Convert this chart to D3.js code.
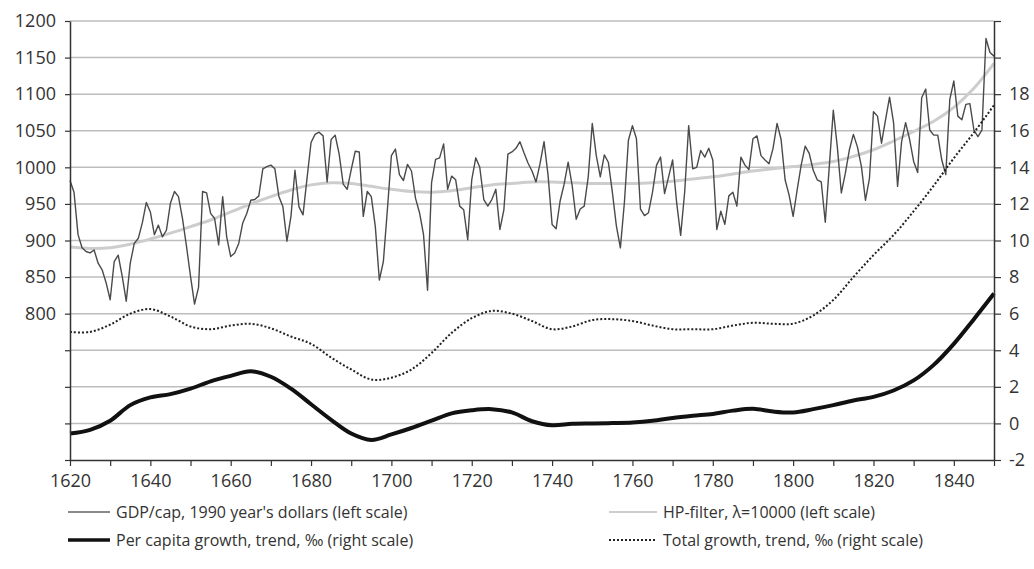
<!DOCTYPE html>
<html>
<head>
<meta charset="utf-8">
<script src="https://cdn.jsdelivr.net/npm/d3@7"></script>
<style>
  body { margin: 0; background: #fff; }
  text { font-family: "Open Sans", "Liberation Sans", sans-serif; fill: #333; }
</style>
</head>
<body>
<div id="chart"></div>
<script>
// Annual GDP per capita, 1990 year's dollars (1620..1850)
const gdpStart = 1620;
const gdpValues = [
  982, 966, 908, 890, 885, 883, 887, 869, 860, 842,
  819, 871, 880, 851, 817, 869, 896, 903, 924, 952,
  939, 908, 921, 905, 914, 951, 967, 960, 930, 892,
  851, 813, 836, 967, 965, 937, 930, 894, 960, 905,
  878, 883, 896, 924, 937, 955, 956, 961, 998, 1001,
  1003, 998, 960, 946, 899, 933, 996, 946, 935, 985,
  1034, 1045, 1048, 1043, 980, 1038, 1044, 1018, 977, 970,
  997, 1022, 1021, 933, 967, 960, 919, 846, 871, 942,
  1016, 1025, 990, 982, 1004, 995, 958, 938, 908, 832,
  979, 1011, 1013, 1032, 970, 988, 983, 947, 942, 901,
  983, 1013, 1000, 956, 947, 956, 970, 915, 942, 1018,
  1021, 1026, 1035, 1020, 1006, 995, 980, 1005, 1035, 989,
  922, 916, 954, 977, 1007, 975, 929, 943, 947, 987,
  1060, 1016, 987, 1017, 1007, 966, 920, 890, 952, 1037,
  1057, 1039, 943, 934, 938, 966, 1003, 1014, 964, 987,
  1010, 952, 907, 966, 1057, 998, 1000, 1023, 1014, 1026,
  1010, 915, 940, 922, 961, 966, 947, 1014, 1003, 997,
  1039, 1043, 1016, 1010, 1005, 1026, 1060, 1038, 983, 962,
  933, 969, 1003, 1029, 1019, 996, 983, 980, 925, 1001,
  1078, 1028, 965, 992, 1024, 1045, 1028, 1001, 955, 985,
  1076, 1070, 1033, 1065, 1096, 1061, 974, 1035, 1061, 1038,
  1008, 993, 1095, 1107, 1051, 1044, 1044, 1010, 990, 1093,
  1118, 1070, 1065, 1086, 1087, 1051, 1042, 1051, 1176, 1157,
  1152
];

// Trend series, read every 5 years
const trendYears = d3.range(1620, 1851, 5);
const hpValues = [
  891, 889, 890, 895, 902, 910, 919, 928, 939, 950,
  960, 969, 976, 979, 978, 974, 970, 967, 966, 968,
  972, 976, 978, 980, 980, 979, 978, 978, 978, 979,
  981, 984, 987, 991, 995, 998, 1001, 1004, 1008, 1015,
  1024, 1036, 1049, 1063, 1082, 1108, 1142
];
const perCapitaGrowth = [
  -0.55, -0.35, 0.15, 1.0, 1.42, 1.6, 1.9, 2.3, 2.6, 2.85,
  2.55, 1.9, 1.05, 0.2, -0.55, -0.9, -0.6, -0.25, 0.15, 0.55,
  0.72, 0.78, 0.6, 0.12, -0.1, -0.02, 0.0, 0.02, 0.05, 0.14,
  0.3, 0.42, 0.52, 0.7, 0.8, 0.65, 0.6, 0.78, 1.0, 1.25,
  1.45, 1.8, 2.35, 3.2, 4.35, 5.7, 7.1
];
const totalGrowth = [
  5.0, 5.0, 5.4, 6.0, 6.25, 5.85, 5.3, 5.15, 5.35, 5.45,
  5.2, 4.75, 4.35, 3.6, 2.95, 2.4, 2.5, 2.95, 3.85, 4.95,
  5.75, 6.15, 6.0, 5.6, 5.15, 5.3, 5.65, 5.7, 5.6, 5.35,
  5.15, 5.15, 5.15, 5.35, 5.5, 5.45, 5.45, 5.9, 6.75, 8.0,
  9.2, 10.3, 11.6, 13.0, 14.5, 15.9, 17.4
];

// Tick values
const leftTicks = d3.range(600, 1201, 50);
const leftLabels = [800, 850, 900, 950, 1000, 1050, 1100, 1150, 1200];
const rightTicks = d3.range(-2, 23, 2);
const rightLabels = [-2, 0, 2, 4, 6, 8, 10, 12, 14, 16, 18];
const xTicks = d3.range(1620, 1851, 10);
const xLabels = d3.range(1620, 1841, 20);

const legendItems = [
  { label: "GDP/cap, 1990 year's dollars (left scale)", key: "gdp" },
  { label: "HP-filter, \u03bb=10000 (left scale)", key: "hp" },
  { label: "Per capita growth, trend, \u2030 (right scale)", key: "pc" },
  { label: "Total growth,  trend, \u2030 (right scale)", key: "tot" }
];

const width = 1034, height = 569;
const plotLeft = 70, plotRight = 994, plotTop = 21, plotBottom = 460;

const svg = d3.select("#chart")
    .append("svg")
    .attr("width", width)
    .attr("height", height);

// Scales
const x = d3.scaleLinear().domain([1620, 1850]).range([plotLeft, plotRight]);
const yLeft = d3.scaleLinear().domain([600, 1200]).range([plotBottom, plotTop]);
const yRight = d3.scaleLinear().domain([-2, 22]).range([plotBottom, plotTop]);

// Styles for each series
const styles = {
  gdp: { stroke: "#4a4a4a", width: 1.4, dash: null },
  hp: { stroke: "#cdcdcd", width: 3, dash: null },
  pc: { stroke: "#111", width: 4, dash: null },
  tot: { stroke: "#222", width: 2, dash: "2,2" }
};

// Gridlines
svg.append("g")
    .selectAll("line")
    .data(leftTicks.filter(d => d > 600))
    .enter()
    .append("line")
    .attr("x1", plotLeft)
    .attr("x2", plotRight)
    .attr("y1", d => yLeft(d))
    .attr("y2", d => yLeft(d))
    .attr("stroke", "#bdbdbd")
    .attr("stroke-width", 1.5);

// Lines
const gdpData = gdpValues.map((v, i) => ({ year: gdpStart + i, v }));
const trend = arr => trendYears.map((yr, i) => ({ year: yr, v: arr[i] }));

const lineLeft = d3.line().x(d => x(d.year)).y(d => yLeft(d.v));
const smoothLeft = d3.line().x(d => x(d.year)).y(d => yLeft(d.v)).curve(d3.curveCatmullRom);
const smoothRight = d3.line().x(d => x(d.year)).y(d => yRight(d.v)).curve(d3.curveCatmullRom);

function drawLine(data, gen, s) {
  svg.append("path")
      .datum(data)
      .attr("d", gen)
      .attr("fill", "none")
      .attr("stroke", s.stroke)
      .attr("stroke-width", s.width)
      .attr("stroke-dasharray", s.dash)
      .attr("stroke-linejoin", "round");
}

drawLine(trend(hpValues), smoothLeft, styles.hp);
drawLine(gdpData, lineLeft, styles.gdp);
drawLine(trend(totalGrowth), smoothRight, styles.tot);
drawLine(trend(perCapitaGrowth), smoothRight, styles.pc);

// Axes
const axisLeft = d3.axisLeft(yLeft)
    .tickValues(leftTicks)
    .tickSize(5)
    .tickPadding(9)
    .tickFormat(d => leftLabels.includes(d) ? d : "");
const axisRight = d3.axisRight(yRight)
    .tickValues(rightTicks)
    .tickSize(7)
    .tickPadding(8)
    .tickFormat(d => rightLabels.includes(d) ? d : "");
const axisBottom = d3.axisBottom(x)
    .tickValues(xTicks)
    .tickSize(6)
    .tickPadding(8)
    .tickFormat(d => xLabels.includes(d) ? d : "");

function styleAxis(g) {
  g.select(".domain").attr("stroke", "#333").attr("stroke-width", 1.5);
  g.selectAll(".tick line").attr("stroke", "#333").attr("stroke-width", 1.2);
  g.selectAll("text").attr("font-size", 18).attr("fill", "#333")
      .attr("font-family", "'Open Sans', 'Liberation Sans', sans-serif");
}

svg.append("g").attr("transform", `translate(${plotLeft},0)`).call(axisLeft.tickSizeOuter(0)).call(styleAxis);
svg.append("g").attr("transform", `translate(${plotRight},0)`).call(axisRight.tickSizeOuter(0)).call(styleAxis);
svg.append("g").attr("transform", `translate(0,${plotBottom})`).call(axisBottom.tickSizeOuter(0)).call(styleAxis);

// Legend (2 x 2)
const legendX = [68, 609];
const legendLineLen = [42, 48];
const legendY = [512, 540];
const legend = svg.append("g").selectAll("g")
    .data(legendItems)
    .enter()
    .append("g")
    .attr("transform", (d, i) => `translate(${legendX[i % 2]},${legendY[Math.floor(i / 2)]})`);

legend.append("line")
    .attr("x1", 0)
    .attr("x2", (d, i) => legendLineLen[i % 2])
    .attr("stroke", d => d.key === "gdp" ? "#8a8a8a" : styles[d.key].stroke)
    .attr("stroke-width", d => d.key === "pc" ? 3.5 : 2)
    .attr("stroke-dasharray", d => styles[d.key].dash);

legend.append("text")
    .attr("x", (d, i) => legendLineLen[i % 2] + 6)
    .attr("dy", "0.35em")
    .attr("font-size", 16)
    .text(d => d.label);
</script>
</body>
</html>
